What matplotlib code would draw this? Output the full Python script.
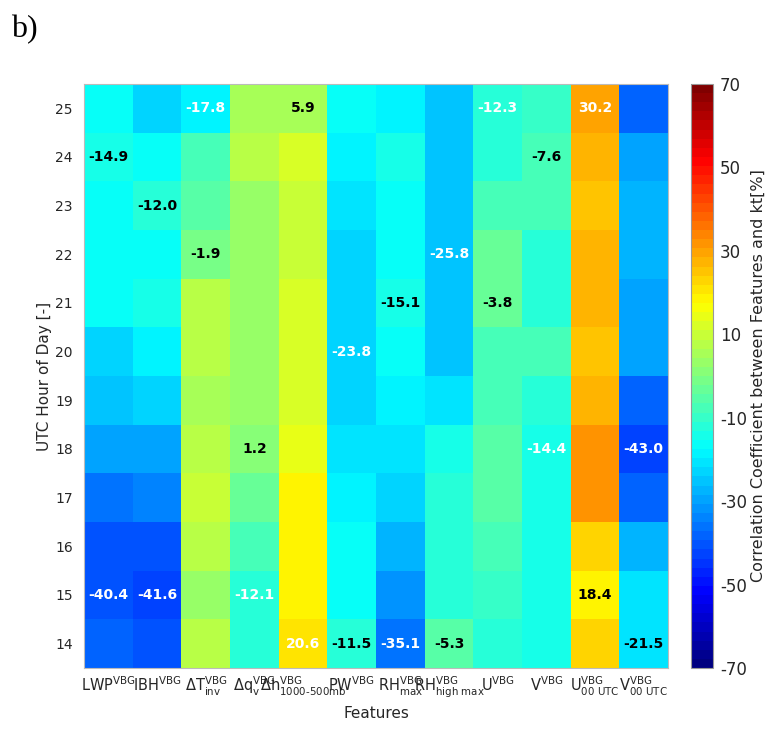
import numpy as np
import matplotlib
matplotlib.use("Agg")
import matplotlib.pyplot as plt
from matplotlib.colors import LinearSegmentedColormap

# features (columns) and hours (rows, top to bottom)
features = [r"LWP$^{VBG}$", r"IBH$^{VBG}$", r"$\Delta$T$^{VBG}_{inv}$",
            r"$\Delta$q$^{VBG}_{v}$", r"$\Delta$h$^{VBG}_{1000\text{-}500mb}$",
            r"PW$^{VBG}$", r"RH$^{VBG}_{max}$", r"RH$^{VBG}_{high\ max}$",
            r"U$^{VBG}$", r"V$^{VBG}$", r"U$^{VBG}_{00\ UTC}$", r"V$^{VBG}_{00\ UTC}$"]
hours = [25, 24, 23, 22, 21, 20, 19, 18, 17, 16, 15, 14]

# correlation coefficients [%], one row per hour
corr = np.array([
    [-15.5, -23.0, -17.8,   6.0,   5.9, -16.0, -18.0, -25.0, -12.3, -10.0, 30.2, -38.0],
    [-14.9, -16.0,  -8.0,   7.0,  11.0, -18.0, -15.0, -25.0, -12.0,  -7.6, 28.0, -29.0],
    [-16.5, -12.0,  -5.0,   4.0,   9.0, -20.0, -16.0, -25.0,  -8.0,  -8.0, 25.0, -27.0],
    [-16.5, -16.0,  -1.9,   4.0,   9.0, -22.0, -16.0, -25.8,  -4.0, -12.0, 27.0, -27.0],
    [-16.5, -15.0,   7.0,   4.0,  11.0, -22.0, -15.1, -25.0,  -3.8, -12.0, 27.0, -29.0],
    [-23.5, -18.0,   7.0,   4.0,  13.0, -23.8, -16.0, -25.0,  -8.0,  -8.5, 25.0, -29.0],
    [-25.0, -22.0,   6.0,   4.0,  13.0, -23.0, -18.0, -21.0,  -7.0, -11.0, 27.0, -38.0],
    [-30.0, -30.0,   8.0,   1.2,  14.0, -20.0, -20.0, -14.0,  -6.0, -14.4, 32.0, -43.0],
    [-37.0, -34.0,  10.0,  -4.0,  18.0, -18.0, -24.0, -12.0,  -6.0, -14.0, 31.0, -38.0],
    [-40.0, -40.0,   8.0,  -8.0,  18.0, -16.0, -28.0, -12.0,  -7.5, -14.0, 23.0, -27.0],
    [-40.4, -41.6,   4.0, -12.1,  18.0, -16.0, -32.0, -12.0,  -9.0, -14.0, 18.4, -21.0],
    [-39.0, -41.0,   8.0, -12.0,  20.6, -11.5, -35.1,  -5.3, -11.5, -14.0, 22.0, -21.5],
])

# labelled cells: (row, col, text colour)
labels = [(0, 2, "w"), (0, 4, "k"), (0, 8, "w"), (0, 10, "w"),
          (1, 0, "k"), (1, 9, "k"),
          (2, 1, "k"),
          (3, 2, "k"), (3, 7, "w"),
          (4, 6, "k"), (4, 8, "k"),
          (5, 5, "w"),
          (7, 3, "k"), (7, 9, "w"), (7, 11, "w"),
          (10, 0, "w"), (10, 1, "w"), (10, 3, "w"), (10, 10, "k"),
          (11, 4, "w"), (11, 5, "k"), (11, 6, "w"), (11, 7, "k"), (11, 11, "k")]

# MATLAB-style jet with 64 levels
jet64 = LinearSegmentedColormap.from_list(
    "jet64",
    [(0.0, (0, 0, 0.5)), (1 / 8, (0, 0, 1)), (3 / 8, (0, 1, 1)),
     (5 / 8, (1, 1, 0)), (7 / 8, (1, 0, 0)), (1.0, (0.5, 0, 0))], N=64)

txt = "#262626"
plt.rcParams["font.family"] = "DejaVu Sans"
plt.rcParams["mathtext.default"] = "regular"
plt.rcParams["axes.unicode_minus"] = False

fig = plt.figure(figsize=(7.76, 7.30), dpi=100)
ax = fig.add_axes([84 / 776, 62 / 730, 584 / 776, 584 / 730])
cax = fig.add_axes([691 / 776, 62 / 730, 22 / 776, 584 / 730])

im = ax.imshow(corr, cmap=jet64, vmin=-70, vmax=70, aspect="auto",
               interpolation="nearest")

for r, c, col in labels:
    ax.text(c, r, "%.1f" % corr[r, c], ha="center", va="center",
            color="white" if col == "w" else "black",
            fontsize=10, fontweight="bold")

ax.set_xticks(range(len(features)))
ax.set_xticklabels(features, fontsize=10.5, color=txt)
ax.set_yticks(range(len(hours)))
ax.set_yticklabels(hours, fontsize=10, color=txt)
ax.tick_params(axis="y", length=0, pad=8)
ax.tick_params(axis="x", length=0, pad=5)
ax.set_xlabel("Features", fontsize=11, color=txt, labelpad=4)
ax.set_ylabel("UTC Hour of Day [-]", fontsize=11, color=txt, labelpad=2)
for s in ax.spines.values():
    s.set_color("#bbbbbb")
    s.set_linewidth(0.8)

cb = fig.colorbar(im, cax=cax, ticks=[-70, -50, -30, -10, 10, 30, 50, 70])
cb.ax.tick_params(length=0, labelsize=12, labelcolor=txt, pad=5)
cb.set_label("Correlation Coefficient between Features and kt[%]",
             fontsize=11.5, color=txt, labelpad=3)
cb.outline.set_edgecolor("#999999")
cb.outline.set_linewidth(0.8)

fig.text(11 / 776, 1 - 37 / 730, "b)", fontsize=23, family="Liberation Serif",
         color="black")

fig.savefig("out.png", dpi=100)
